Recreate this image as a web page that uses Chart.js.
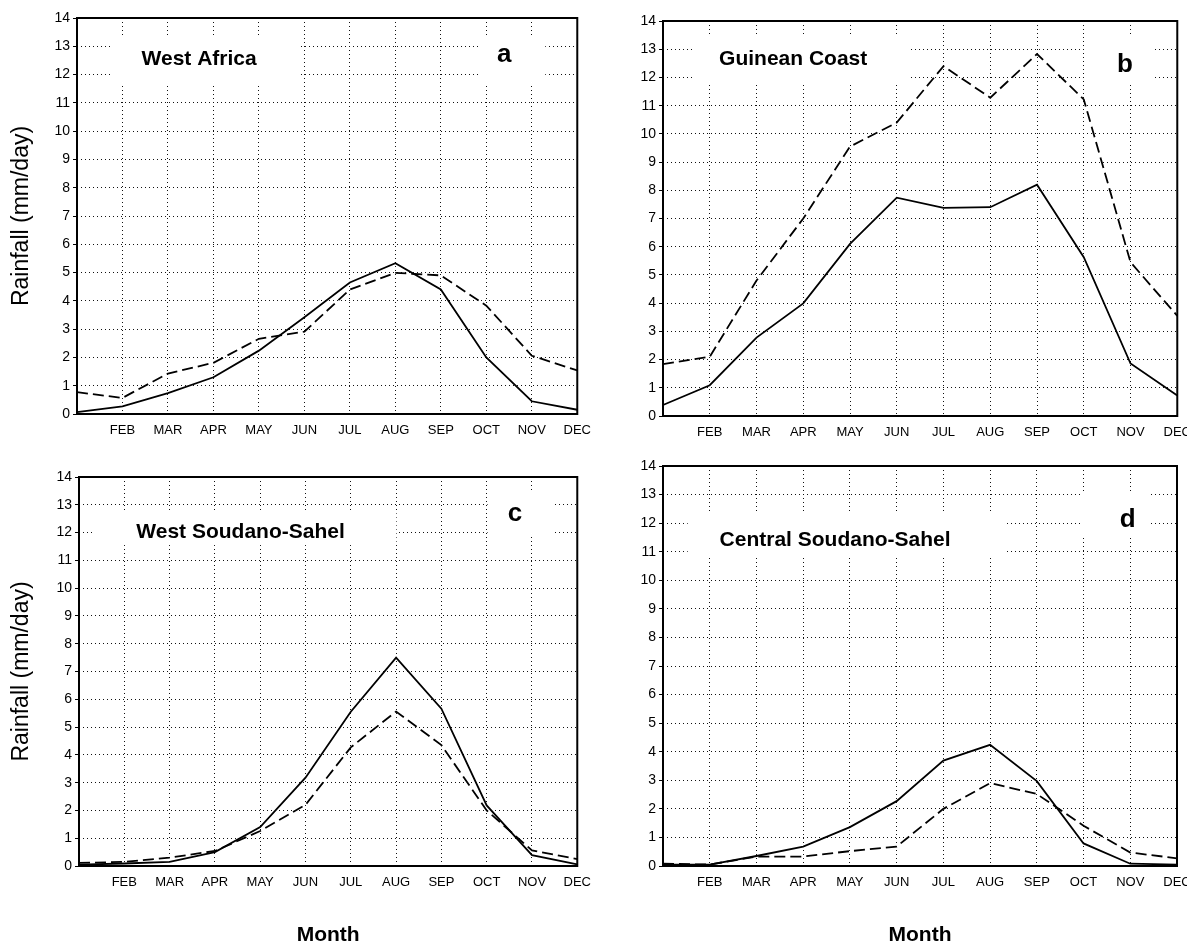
<!DOCTYPE html>
<html>
<head>
<meta charset="utf-8">
<script src="https://cdn.jsdelivr.net/npm/chart.js@4/dist/chart.umd.min.js"></script>
<style>
  html, body { margin: 0; padding: 0; background: #fff; }
  body { width: 1187px; height: 946px; overflow: hidden; position: relative; }
  canvas { position: absolute; }
</style>
</head>
<body>
<canvas id="a" width="600" height="450" style="left:0;top:0"></canvas>
<canvas id="b" width="600" height="450" style="left:600px;top:0"></canvas>
<canvas id="c" width="600" height="496" style="left:0;top:450px"></canvas>
<canvas id="d" width="600" height="496" style="left:600px;top:450px"></canvas>
<script>
const months = ['JAN', 'FEB', 'MAR', 'APR', 'MAY', 'JUN', 'JUL', 'AUG', 'SEP', 'OCT', 'NOV', 'DEC'];
const yTicks = [0, 1, 2, 3, 4, 5, 6, 7, 8, 9, 10, 11, 12, 13, 14];

// solid / dashed curves, mm/day
const westAfricaSolid  = [0.07, 0.27, 0.74, 1.30, 2.24, 3.42, 4.65, 5.33, 4.40, 2.00, 0.45, 0.15];
const westAfricaDashed = [0.77, 0.57, 1.43, 1.81, 2.66, 2.91, 4.40, 4.99, 4.90, 3.83, 2.06, 1.54];

const guineaSolid  = [0.39, 1.09, 2.78, 3.99, 6.10, 7.74, 7.38, 7.40, 8.20, 5.63, 1.86, 0.73];
const guineaDashed = [1.84, 2.10, 4.80, 7.00, 9.55, 10.40, 12.40, 11.28, 12.83, 11.22, 5.45, 3.55];

const westSahelSolid  = [0.05, 0.09, 0.15, 0.50, 1.40, 3.18, 5.55, 7.50, 5.66, 2.18, 0.39, 0.06];
const westSahelDashed = [0.11, 0.15, 0.30, 0.54, 1.26, 2.20, 4.27, 5.56, 4.35, 2.00, 0.56, 0.25];

const centralSahelSolid  = [0.05, 0.05, 0.35, 0.68, 1.36, 2.27, 3.69, 4.24, 2.97, 0.79, 0.08, 0.05];
const centralSahelDashed = [0.08, 0.05, 0.33, 0.33, 0.52, 0.68, 2.00, 2.90, 2.52, 1.41, 0.47, 0.27];

const FONT = '"Liberation Sans", Arial, Helvetica, sans-serif';

const panelText = {
  id: 'panelText',
  beforeDatasetsDraw(chart, args, opts) {
    const {ctx, chartArea: a, scales: {y}} = chart;
    const fx = f => a.left + f * (a.right - a.left);
    ctx.save();
    ctx.fillStyle = '#fff';
    opts.boxes.forEach(b => {
      const x0 = fx(b[0]), x1 = fx(b[1]);
      const y0 = y.getPixelForValue(b[2]), y1 = y.getPixelForValue(b[3]);
      ctx.fillRect(x0, y0, x1 - x0, y1 - y0);
    });
    ctx.fillStyle = '#000';
    ctx.textBaseline = 'middle';
    ctx.textAlign = 'left';
    ctx.font = 'bold 21px ' + FONT;
    ctx.fillText(opts.title, fx(opts.titleAt[0]), y.getPixelForValue(opts.titleAt[1]));
    ctx.textAlign = 'center';
    ctx.font = 'bold 26px ' + FONT;
    ctx.fillText(opts.letter, fx(opts.letterAt[0]), y.getPixelForValue(opts.letterAt[1]));
    ctx.restore();
  },
  afterDraw(chart) {
    const {ctx, chartArea: a} = chart;
    ctx.save();
    ctx.strokeStyle = '#000';
    ctx.lineWidth = 2;
    ctx.strokeRect(a.left, a.top, a.right - a.left, a.bottom - a.top);
    ctx.restore();
  }
};

const drawPanel = (id, solid, dashed, p) => {
  new Chart(document.getElementById(id), {
    type: 'line',
    plugins: [panelText],
    data: {
      labels: months,
      datasets: [
        { data: solid, borderColor: '#000', borderWidth: 1.8, pointRadius: 0, tension: 0 },
        { data: dashed, borderColor: '#000', borderWidth: 1.8, borderDash: [11, 5], pointRadius: 0, tension: 0 }
      ]
    },
    options: {
      responsive: false,
      animation: false,
      events: [],
      layout: { padding: { top: p.top, right: p.right, left: 0, bottom: 0 } },
      plugins: {
        legend: { display: false },
        tooltip: { enabled: false },
        panelText: p.text
      },
      scales: {
        x: {
          type: 'category',
          offset: false,
          afterFit: s => { s.height = p.xHeight; },
          grid: { color: '#111', lineWidth: 1, drawTicks: false },
          border: { display: false, dash: [1, 3] },
          ticks: {
            color: '#000', autoSkip: false, maxRotation: 0, padding: 9,
            font: { family: FONT, size: 13 },
            callback: (v, i) => i === 0 ? '' : months[i]
          },
          title: {
            display: p.xTitle,
            text: 'Month',
            color: '#000',
            font: { family: FONT, size: 21, weight: 'bold', lineHeight: 1 },
            padding: { top: 0, bottom: 0 }
          }
        },
        y: {
          min: 0,
          max: 14,
          afterFit: s => { s.width = p.yWidth; },
          afterBuildTicks: s => { s.ticks = yTicks.map(v => ({ value: v })); },
          grid: { color: '#111', lineWidth: 1, tickLength: 4, tickColor: '#000', tickWidth: 1, tickBorderDash: [] },
          border: { display: false, dash: [1, 3] },
          ticks: { color: '#000', padding: 3, font: { family: FONT, size: 14 } },
          title: {
            display: p.yTitle,
            text: 'Rainfall (mm/day)',
            color: '#000',
            font: { family: FONT, size: 23, lineHeight: 1.2 },
            padding: { top: 8, bottom: 0 }
          }
        }
      }
    }
  });
};

drawPanel('a', westAfricaSolid, westAfricaDashed, {
  top: 18, right: 22, yWidth: 77, xHeight: 36, yTitle: true, xTitle: false,
  text: {
    title: 'West Africa', letter: 'a',
    titleAt: [0.129, 12.55], letterAt: [0.854, 12.7],
    boxes: [[0.068, 0.447, 13.35, 11.63], [0.807, 0.936, 13.35, 11.63]]
  }
});

drawPanel('b', guineaSolid, guineaDashed, {
  top: 21, right: 22, yWidth: 63, xHeight: 34, yTitle: false, xTitle: false,
  text: {
    title: 'Guinean Coast', letter: 'b',
    titleAt: [0.109, 12.63], letterAt: [0.898, 12.45],
    boxes: [[0.058, 0.48, 13.52, 11.74], [0.82, 0.952, 13.52, 11.74]]
  }
});

drawPanel('c', westSahelSolid, westSahelDashed, {
  top: 27, right: 20, yWidth: 79, xHeight: 80, yTitle: true, xTitle: true,
  text: {
    title: 'West Soudano-Sahel', letter: 'c',
    titleAt: [0.115, 12.0], letterAt: [0.875, 12.67],
    boxes: [[0.027, 0.637, 12.78, 11.55], [0.82, 0.953, 13.5, 11.9]]
  }
});

drawPanel('d', centralSahelSolid, centralSahelDashed, {
  top: 16, right: 23, yWidth: 63, xHeight: 80, yTitle: false, xTitle: true,
  text: {
    title: 'Central Soudano-Sahel', letter: 'd',
    titleAt: [0.11, 11.4], letterAt: [0.904, 12.1],
    boxes: [[0.048, 0.667, 12.38, 10.79], [0.814, 0.948, 13.1, 11.56]]
  }
});
</script>
</body>
</html>
